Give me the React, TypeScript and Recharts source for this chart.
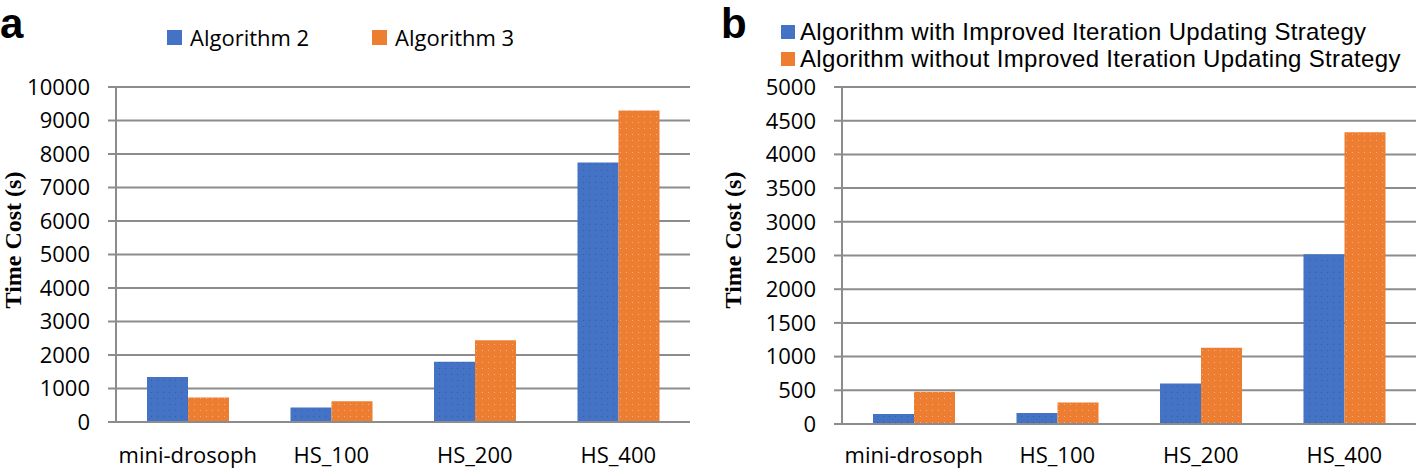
import React from 'react';
import { BarChart, Bar, XAxis, YAxis, CartesianGrid, Legend } from 'recharts';

const categories = ['mini-drosoph', 'HS_100', 'HS_200', 'HS_400'];
const algorithm2 = [1340, 430, 1800, 7750];
const algorithm3 = [730, 620, 2440, 9300];
const withImproved = [150, 165, 600, 2520];
const withoutImproved = [480, 320, 1130, 4330];
const ticksA = [0, 1000, 2000, 3000, 4000, 5000, 6000, 7000, 8000, 9000, 10000];
const ticksB = [0, 500, 1000, 1500, 2000, 2500, 3000, 3500, 4000, 4500, 5000];
const seriesA = ['Algorithm 2', 'Algorithm 3'];
const seriesB = [
  'Algorithm with Improved Iteration Updating Strategy',
  'Algorithm without Improved Iteration Updating Strategy',
];
const yTitle = 'Time Cost (s)';

const BLUE = '#4472C4';
const ORANGE = '#ED7D31';
const SWATCH = [BLUE, ORANGE];
const GRID = '#8c8c8c';
const FONT = '"Open Sans", sans-serif';

const dataA = categories.map((c, i) => ({ name: c, a2: algorithm2[i], a3: algorithm3[i] }));
const dataB = categories.map((c, i) => ({ name: c, w: withImproved[i], wo: withoutImproved[i] }));

const Patterns = () => (
  <defs>
    <pattern id="dotsBlue" width="6" height="6" patternUnits="userSpaceOnUse">
      <rect width="6" height="6" fill={BLUE} />
      <rect x="1" y="2" width="1" height="1" fill="#2f4f86" opacity="0.6" />
    </pattern>
    <pattern id="dotsOrange" width="6" height="6" patternUnits="userSpaceOnUse">
      <rect width="6" height="6" fill={ORANGE} />
      <rect x="2" y="2" width="1" height="1" fill="#f8c6a4" opacity="0.7" />
    </pattern>
  </defs>
);

const makeTitle = (dx: number) => (props: any) => {
  const vb = props.viewBox || { x: 0, y: 0, height: 0 };
  const cx = vb.x + dx;
  const cy = 240;
  return (
    <text
      x={cx}
      y={cy}
      transform={`rotate(-90, ${cx}, ${cy})`}
      textAnchor="middle"
      dominantBaseline="central"
      style={{ fontFamily: '"Liberation Serif", serif', fontWeight: 'bold', fontSize: 24, fill: '#000' }}
    >
      {yTitle}
    </text>
  );
};

const LegendRow = ({ payload }: any) => (
  <div style={{ position: 'relative', width: 400, height: 30, fontFamily: FONT, fontSize: 22, color: '#000' }}>
    {(payload || []).map((p: any, i: number) => (
      <div key={i} style={{ position: 'absolute', left: i * 205, top: 0, display: 'flex', alignItems: 'center', height: 30, whiteSpace: 'nowrap' }}>
        <span style={{ display: 'inline-block', width: 15, height: 15, background: SWATCH[i], marginRight: 8 }} />
        <span style={{ lineHeight: '26px' }}>{p.value}</span>
      </div>
    ))}
  </div>
);

const LegendCol = ({ payload }: any) => (
  <div style={{ position: 'relative', width: 640, height: 56, fontFamily: '"Liberation Sans", Arial, sans-serif', fontSize: 24, letterSpacing: '0.33px', color: '#000' }}>
    {(payload || []).map((p: any, i: number) => (
      <div key={i} style={{ position: 'absolute', left: 0, top: i * 27, display: 'flex', alignItems: 'center', height: 27, whiteSpace: 'nowrap' }}>
        <span style={{ display: 'inline-block', width: 14, height: 14, background: SWATCH[i], marginRight: 5 }} />
        <span style={{ lineHeight: '27px' }}>{p.value}</span>
      </div>
    ))}
  </div>
);

const tickStyle = { fontFamily: FONT, fontSize: 22, fill: '#000' };
const letterStyle = { fontFamily: '"Liberation Sans", Arial, sans-serif', fontWeight: 'bold' as const, fontSize: 42, fill: '#000' };

export default function App() {
  return (
    <div style={{ position: 'absolute', left: 0, top: 0, width: 1416, height: 472, background: '#fff', overflow: 'hidden' }}>
      <svg width={1416} height={472} style={{ position: 'absolute', left: 0, top: 0 }}>
        <text x={0} y={38} style={letterStyle}>a</text>
        <text x={721} y={38} style={letterStyle}>b</text>
      </svg>
      <div style={{ position: 'absolute', left: 0, top: 0 }}>
        <BarChart width={708} height={472} data={dataA} margin={{ top: 87, right: 18, bottom: 0, left: 0 }} barGap={0} barSize={41}>
          <Patterns />
          <CartesianGrid vertical={false} stroke={GRID} strokeWidth={2} />
          <XAxis dataKey="name" height={50} tickSize={0} tickMargin={25} axisLine={{ stroke: GRID, strokeWidth: 2 }} tickLine={false} tick={tickStyle} interval={0} />
          <YAxis
            width={116}
            domain={[0, 10000]}
            ticks={ticksA}
            tickSize={8}
            tickMargin={18}
            axisLine={{ stroke: GRID, strokeWidth: 2 }}
            tickLine={{ stroke: GRID, strokeWidth: 2 }}
            tick={tickStyle}
            interval={0}
            label={{ content: makeTitle(13) }}
          />
          <Legend
            layout="vertical"
            verticalAlign="middle"
            align="center"
            wrapperStyle={{ left: 167, top: 22, width: 400, height: 30 }}
            content={LegendRow}
          />
          <Bar dataKey="a2" name={seriesA[0]} fill="url(#dotsBlue)" isAnimationActive={false} legendType="square" />
          <Bar dataKey="a3" name={seriesA[1]} fill="url(#dotsOrange)" isAnimationActive={false} legendType="square" />
        </BarChart>
      </div>
      <div style={{ position: 'absolute', left: 708, top: 0 }}>
        <BarChart width={708} height={472} data={dataB} margin={{ top: 87, right: 0, bottom: 0, left: 0 }} barGap={0} barSize={41}>
          <Patterns />
          <CartesianGrid vertical={false} stroke={GRID} strokeWidth={2} />
          <XAxis dataKey="name" height={48} tickSize={0} tickMargin={23} axisLine={{ stroke: GRID, strokeWidth: 2 }} tickLine={false} tick={tickStyle} interval={0} />
          <YAxis
            width={134}
            domain={[0, 5000]}
            ticks={ticksB}
            tickSize={8}
            tickMargin={18}
            axisLine={{ stroke: GRID, strokeWidth: 2 }}
            tickLine={{ stroke: GRID, strokeWidth: 2 }}
            tick={tickStyle}
            interval={0}
            label={{ content: makeTitle(25) }}
          />
          <Legend
            layout="vertical"
            verticalAlign="middle"
            align="center"
            wrapperStyle={{ left: 73, top: 18, width: 640, height: 56 }}
            content={LegendCol}
          />
          <Bar dataKey="w" name={seriesB[0]} fill="url(#dotsBlue)" isAnimationActive={false} legendType="square" />
          <Bar dataKey="wo" name={seriesB[1]} fill="url(#dotsOrange)" isAnimationActive={false} legendType="square" />
        </BarChart>
      </div>
    </div>
  );
}
